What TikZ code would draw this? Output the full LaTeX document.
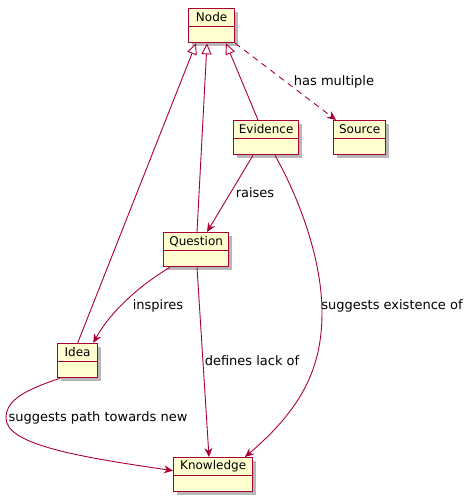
\documentclass[tikz,border=0pt]{standalone}
\usepackage{fontspec}
\setmainfont{DejaVu Sans}
\usetikzlibrary{arrows.meta,shadows}
\definecolor{umlborder}{HTML}{A80036}
\definecolor{umlfill}{HTML}{FEFECE}
\tikzset{
  classbox/.style={draw=umlborder, fill=umlfill, line width=1.3pt, inner sep=0pt,
    anchor=north west, minimum height=34pt,
    drop shadow={shadow xshift=3.5pt, shadow yshift=-3.5pt, fill=black, opacity=0.28}},
  classsep/.style={draw=umlborder, line width=1.3pt},
  classname/.style={font=\fontsize{12}{14}\selectfont, inner sep=0pt},
  rel/.style={draw=umlborder, line width=0.9pt},
  generalize/.style={rel, -{Triangle[open, length=11pt, width=10pt, line width=0.9pt]}},
  assoc/.style={rel, -{Stealth[length=9pt, width=8pt, inset=3pt]}},
  rellabel/.style={font=\fontsize{13}{15}\selectfont, inner sep=0pt, text=black}
}
% \umlclass{name}{left}{top}{width}{title}
\newcommand{\umlclass}[5]{%
  \node[classbox, minimum width=#4pt] (#1) at (#2,#3) {};
  \draw[classsep] ([yshift=-18.5pt]#1.north west) -- ([yshift=-18.5pt]#1.north east);
  \node[classname] at ([yshift=-9.5pt]#1.north) {#5};
}
\begin{document}
\begin{tikzpicture}[x=1pt, y=-1pt]
\useasboundingbox (0,0) rectangle (471,501);

% classes
\umlclass{node}{188}{8}{46}{Node}
\umlclass{evidence}{233}{120}{65}{Evidence}
\umlclass{source}{333}{120}{52}{Source}
\umlclass{question}{163}{232}{65}{Question}
\umlclass{idea}{57}{343}{40}{Idea}
\umlclass{knowledge}{173}{457}{79}{Knowledge}

% generalizations towards Node
\draw[generalize] (idea.north) -- ([xshift=8pt]node.south west);
\draw[generalize] ([xshift=34pt]question.north west) -- ([xshift=19pt]node.south west);
\draw[generalize] ([xshift=25pt]evidence.north west) -- ([xshift=38pt]node.south west);

% Node has multiple Source
\draw[assoc, dashed, dash pattern=on 6pt off 5pt] (node.south east) -- ([xshift=3pt]source.north west);
\node[rellabel] (lblsource) at (334,82) {has multiple};

% Evidence raises Question
\draw[assoc] ([xshift=20pt]evidence.south west) -- ([xshift=44pt]question.north west);
\node[rellabel] (lblraises) at (255,193) {raises};

% Evidence suggests existence of Knowledge
\draw[assoc] ([xshift=42pt]evidence.south west)
  .. controls (300,200) and (322,260) .. (322,313)
  .. controls (322,370) and (300,410) .. ([xshift=72pt]knowledge.north west);
\node[rellabel] (lblexist) at (392,306) {suggests existence of};

% Question inspires Idea
\draw[assoc] ([xshift=7pt]question.south west)
  .. controls (140,285) and (110,312) .. ([xshift=-5pt]idea.north east);
\node[rellabel] (lblinspires) at (158,306) {inspires};

% Question defines lack of Knowledge
\draw[assoc] ([xshift=34pt]question.south west) -- ([xshift=36pt]knowledge.north west);
\node[rellabel] (lbllack) at (252,361) {defines lack of};

% Idea suggests path towards new Knowledge
\draw[assoc] ([xshift=3pt]idea.south west)
  .. controls (25,390) and (6,400) .. (6,418)
  .. controls (6,445) and (80,457) .. ([yshift=4pt]knowledge.west);
\node[rellabel] (lblpath) at (98,418) {suggests path towards new};
\end{tikzpicture}
\end{document}
